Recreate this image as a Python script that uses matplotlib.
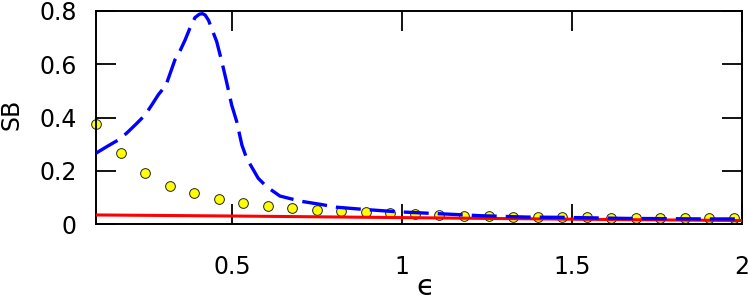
import matplotlib
matplotlib.use('Agg')
from matplotlib import pyplot as plt
import numpy as np

# yellow dots
eps_pts = np.linspace(0.1, 1.976, 27)
sb_pts = [0.375, 0.265, 0.191, 0.144, 0.115, 0.093, 0.080, 0.068, 0.060,
          0.053, 0.048, 0.045, 0.040, 0.0376, 0.034, 0.031, 0.030, 0.027,
          0.025, 0.025, 0.025, 0.024, 0.024, 0.021, 0.021, 0.021, 0.021]

# blue dashed curve
eps_blue = [0.100, 0.131, 0.166, 0.190, 0.220, 0.244, 0.264, 0.283, 0.306,
            0.332, 0.347, 0.362, 0.376, 0.391, 0.404, 0.413, 0.421, 0.431,
            0.440, 0.455, 0.470, 0.484, 0.499, 0.514, 0.529, 0.543, 0.553,
            0.577, 0.602, 0.641, 0.700, 0.759, 0.808, 0.886, 0.984, 1.126,
            1.234, 1.367, 1.465, 1.660, 1.896, 2.000]
sb_blue = [0.266, 0.290, 0.316, 0.341, 0.378, 0.409, 0.447, 0.485, 0.522,
           0.616, 0.650, 0.691, 0.735, 0.775, 0.788, 0.790, 0.785, 0.765,
           0.735, 0.685, 0.610, 0.534, 0.447, 0.384, 0.297, 0.247, 0.225,
           0.172, 0.140, 0.105, 0.086, 0.074, 0.063, 0.055, 0.046, 0.0376,
           0.031, 0.026, 0.025, 0.021, 0.019, 0.019]

# red line
eps_red = [0.1, 0.5, 1.0, 1.5, 2.0]
sb_red = [0.034, 0.030, 0.024, 0.018, 0.013]

xticks = [0.5, 1, 1.5, 2]
xticklabels = ['0.5', '1', '1.5', '2']
yticks = [0, 0.2, 0.4, 0.6, 0.8]
yticklabels = ['0', '0.2', '0.4', '0.6', '0.8']

plt.rcParams['lines.scale_dashes'] = False
fig = plt.figure(figsize=(7.48, 3.02), dpi=100)
ax = fig.add_axes([96/748, 1-224/302, 646/748, 213/302])

ax.plot(eps_pts, sb_pts, 'o', ms=7, mfc='#ffff00', mec='#222222', mew=0.7,
        clip_on=False, zorder=2)
ax.plot(eps_red, sb_red, '-', color='#ff0000', lw=2.2, zorder=3)
ax.plot(eps_blue, sb_blue, '-', color='#0000ff', lw=2.4, dashes=(18, 6.5),
        zorder=4)

ax.set_xlim(0.1, 2.0)
ax.set_ylim(0, 0.8)
ax.set_xticks(xticks)
ax.set_xticklabels(xticklabels)
ax.set_yticks(yticks)
ax.set_yticklabels(yticklabels)
ax.tick_params(direction='in', length=14.5, width=1.3, labelsize=17,
               top=True, right=True)
ax.tick_params(axis='x', pad=22)
ax.tick_params(axis='y', pad=14)
for s in ax.spines.values():
    s.set_linewidth(1.4)

ax.set_xlabel('\u03f5', fontsize=21)
ax.xaxis.label.set_va('center')
ax.xaxis.set_label_coords(0.51, -0.295)
ax.set_ylabel('SB', fontsize=17)
ax.yaxis.label.set_va('center')
ax.yaxis.set_label_coords(-0.1305, 0.516)

fig.savefig('out.png', dpi=100)
